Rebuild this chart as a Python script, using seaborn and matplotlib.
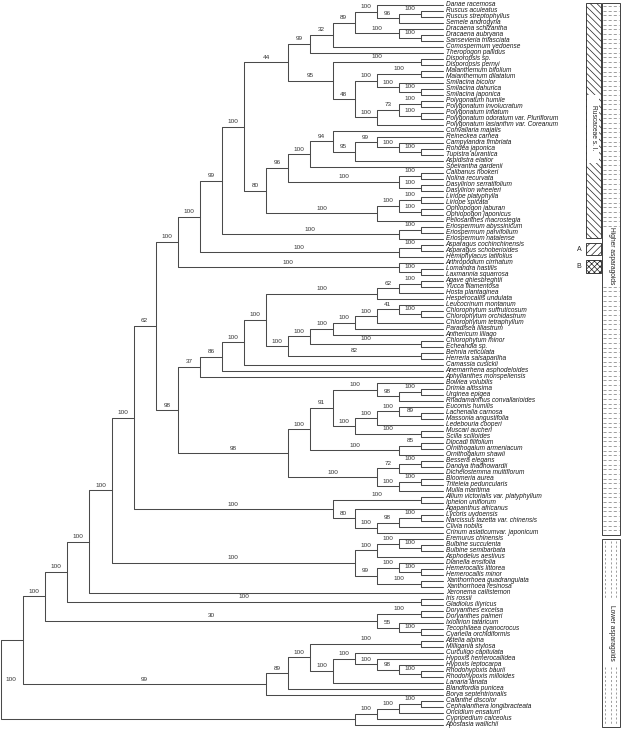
import pandas as pd
import seaborn as sns
import matplotlib.pyplot as plt
from matplotlib.patches import Rectangle

# taxa, top to bottom
taxa = [
    'Danae racemosa', 'Ruscus aculeatus', 'Ruscus streptophyllus', 'Semele androgyna',
    'Dracaena schizantha', 'Dracaena aubryana', 'Sansevieria trifasciata', 'Comospermum yedoense',
    'Theropogon pallidus', 'Disporopsis sp.', 'Disporopsis pernyi', 'Maianthemum bifolium',
    'Maianthemum dilatatum', 'Smilacina bicolor', 'Smilacina dahurica', 'Smilacina japonica',
    'Polygonatum humile', 'Polygonatum involucratum', 'Polygonatum inflatum',
    'Polygonatum odoratum var. Pluriflorum', 'Polygonatum lasianthm var. Coreanum',
    'Convallaria majalis', 'Reineckea carnea', 'Campylandra fimbriata', 'Rohdea japonica',
    'Tupistra aurantica', 'Aspidistra elatior', 'Speirantha gardenii', 'Calibanus hookeri',
    'Nolina recurvata', 'Dasylirion serratifolium', 'Dasylirion wheeleri', 'Liriope platyphylla',
    'Liriope spicata', 'Ophiopogon jaburan', 'Ophiopogon japonicus', 'Peliosanthes macrostegia',
    'Eriospermum abyssinicum', 'Eriospermum parvifolium', 'Eriospermum natalense',
    'Asparagus cochinchinensis', 'Asparagus schoberioides', 'Hemiphylacus latifolius',
    'Arthropodium cirrhatum', 'Lomandra hastilis', 'Laxmannia squarrosa', 'Agave ghiesbreghtii',
    'Yucca filamentosa', 'Hosta plantaginea', 'Hesperocallis undulata', 'Leucocrinum montanum',
    'Chlorophytum suffruticosum', 'Chlorophytum orchidastrum', 'Chlorophytum tetraphyllum',
    'Paradisea liliastrum', 'Anthericum liliago', 'Chlorophytum minor', 'Echeandia sp.',
    'Behnia reticulata', 'Herreria salsaparilha', 'Camassia cusickii', 'Anemarrhena asphodeloides',
    'Aphyllanthes monspeliensis', 'Bowiea volubilis', 'Drimia altissima', 'Urginea epigea',
    'Rhadamanthus convallarioides', 'Eucomis humilis', 'Lachenalia carnosa', 'Massonia angustifolia',
    'Ledebouria cooperi', 'Muscari aucheri', 'Scilla scilloides', 'Dipcadi filifolium',
    'Ornithogalum armeniacum', 'Ornithogalum shawii', 'Bessera elegans', 'Dandya thadhowardii',
    'Dichelostemma multiflorum', 'Bloomeria aurea', 'Triteleia peduncularis', 'Muilla maritima',
    'Allium victorialis var. platyphyllum', 'Ipheion uniflorum', 'Agapanthus africanus',
    'Lycoris uydoensis', 'Narcissus tazetta var. chinensis', 'Clivia nobilis',
    'Crinum asiaticumvar. japonicum', 'Eremurus chinensis', 'Bulbine succulenta',
    'Bulbine semibarbata', 'Asphodelus aestivus', 'Dianella ensifolia', 'Hemerocallis littorea',
    'Hemerocallis minor', 'Xanthorrhoea guadrangulata', 'Xanthorrhoea resinosa',
    'Xeronema callistemon', 'Iris rossii', 'Gladiolus illyricus', 'Doryanthes excelsa',
    'Doryanthes palmeri', 'Ixiolirion tataricum', 'Tecophilaea cyanocrocus',
    'Cyanella orchidiformis', 'Astelia alpina', 'Milligania stylosa', 'Curculigo capitulata',
    'Hypoxis hemerocallidea', 'Hypoxis leptocarpa', 'Rhodohypoxis baurii', 'Rhodohypoxis milloides',
    'Lanaria lanata', 'Blandfordia punicea', 'Borya septentrionalis', 'Calanthe discolor',
    'Cephalanthera longibracteata', 'Oncidium ensatum', 'Cypripedium calceolus', 'Apostasia wallichii',
]


def clade(*parts, support=''):
    return '(' + ','.join(str(p) for p in parts) + ')' + support


# topology with bootstrap values (leaves = index into taxa)
ruscus = clade(clade(0, clade(clade(1, 2, support='100'), 3, support='96'), support='100'),
               clade(4, clade(5, 6, support='100'), support='100'), support='89')
polygonatum = clade(clade(clade(16, 17, support='100'), clade(18, 19, support='100'), support='73'),
                    20, support='100')
maianthemum = clade(clade(11, 12, support='100'), clade(13, clade(14, 15, support='100'), support='100'),
                    support='100')
polygonateae = clade(clade(9, 10, support='100'), clade(maianthemum, polygonatum, support='48'),
                     support='95')
nolinoid = clade(clade(clade(ruscus, 7, support='32'), 8, support='99'), polygonateae, support='44')
convallaria = clade(clade(21, clade(clade(22, clade(23, clade(24, 25, support='100'), support='100'),
                                          support='99'), 26, support='95'), support='94'), 27, support='100')
nolina = clade(clade(28, 29, support='100'), clade(30, 31, support='100'), support='100')
ophiopogon = clade(clade(clade(32, 33, support='100'), clade(34, 35, support='100'), support='100'),
                   36, support='100')
convallarieae = clade(clade(convallaria, nolina, support='96'), ophiopogon, support='80')
eriospermum = clade(clade(37, 38, support='100'), 39, support='100')
asparagus = clade(clade(40, 41, support='100'), 42, support='100')
lomandra = clade(43, clade(44, 45, support='100'), support='100')
ruscaceae = clade(clade(clade(clade(nolinoid, convallarieae, support='100'), eriospermum, support='99'),
                        asparagus, support='100'), lomandra, support='100')

agave = clade(clade(clade(46, 47, support='100'), 48, support='62'), 49, support='100')
chlorophytum = clade(clade(clade(clade(clade(50, clade(51, 52, support='100'), support='41'), 53,
                                       support='100'), 54, support='100'), 55, support='100'),
                     clade(56, 57, support='100'), support='100')
anthericaceae = clade(chlorophytum, clade(58, 59, support='82'), support='100')
agavaceae = clade(clade(clade(clade(agave, anthericaceae, support='100'), 60, support='100'), 61,
                        support='86'), 62, support='37')
urginea = clade(63, clade(clade(64, 65, support='100'), 66, support='98'), support='100')
scilla = clade(clade(clade(67, clade(68, 69, support='89'), support='100'), 70, support='100'),
               clade(71, 72, support='100'), support='100')
hyacinthaceae = clade(clade(urginea, scilla, support='91'),
                      clade(clade(73, 74, support='85'), 75, support='100'), support='100')
themidaceae = clade(clade(clade(76, 77, support='100'), 78, support='72'),
                    clade(clade(79, 80, support='100'), 81, support='100'), support='100')
hyacinth_group = clade(hyacinthaceae, themidaceae, support='98')
amaryllidaceae = clade(clade(82, 83, support='100'),
                       clade(84, clade(clade(clade(85, 86, support='100'), 87, support='98'), 88,
                                       support='100'), support='80'), support='100')
asphodelaceae = clade(clade(clade(89, clade(90, 91, support='100'), support='100'), 92, support='100'),
                      clade(clade(93, clade(94, 95, support='100'), support='100'),
                            clade(96, 97, support='100'), support='99'), support='100')
higher = clade(clade(clade(clade(clade(ruscaceae, clade(agavaceae, hyacinth_group, support='98'),
                                       support='62'), amaryllidaceae, support='100'),
                             asphodelaceae, support='100'), 98, support='100'),
               clade(99, 100, support='100'), support='100')
doryanthes = clade(clade(101, 102, support='100'), clade(103, clade(104, 105, support='100'), support='55'),
                   support='30')
hypoxidaceae = clade(clade(clade(clade(106, 107, support='100'),
                                 clade(clade(108, clade(109, clade(110, clade(111, 112, support='100'),
                                                                   support='98'), support='100'),
                                             support='100'), 113, support='100'), support='100'),
                           114, support='89'), 115, support='99')
orchids = clade(clade(clade(clade(116, 117, support='100'), 118, support='100'), 119, support='100'), 120)
tree_newick = clade(clade(clade(higher, doryanthes, support='100'), hypoxidaceae), orchids)
root_support = '100'

# right-hand groups: (name, first taxon, last taxon)
bar_groups = [('Higher asparagoids', 0, 88), ('Lower asparagoids', 89, 120)]


def parse(s):
    pos = 0

    def node():
        nonlocal pos
        if s[pos] == '(':
            pos += 1
            kids = [node()]
            while s[pos] == ',':
                pos += 1
                kids.append(node())
            pos += 1
            lab = ''
            while pos < len(s) and s[pos] not in ',()':
                lab += s[pos]
                pos += 1
            return {'kids': kids, 'label': lab}
        num = ''
        while s[pos].isdigit():
            num += s[pos]
            pos += 1
        return {'leaf': int(num)}

    return node()


def height(n):
    if 'leaf' in n:
        n['h'] = 0
    else:
        n['h'] = 1 + max(height(k) for k in n['kids'])
    return n['h']


root = parse(tree_newick)
depth = height(root)


def layout(n):
    n['x'] = depth - n['h']
    if 'leaf' in n:
        n['y'] = n['leaf']
    else:
        for k in n['kids']:
            layout(k)
        n['y'] = (n['kids'][0]['y'] + n['kids'][-1]['y']) / 2


layout(root)

segs = []
supports = []


def collect(n):
    if 'leaf' in n:
        return
    for k in n['kids']:
        sid = len(segs)
        segs.append([(n['x'], n['y'], sid), (n['x'], k['y'], sid), (k['x'], k['y'], sid)])
        if 'kids' in k and k['label']:
            supports.append(((n['x'] + k['x']) / 2, k['y'], k['label']))
        collect(k)


collect(root)
df = pd.DataFrame([p for s in segs for p in s], columns=['x', 'y', 'seg'])

sns.set_style('white')
plt.rcParams['font.family'] = ['Liberation Sans', 'DejaVu Sans']
plt.rcParams['hatch.linewidth'] = 0.5
plt.rcParams['lines.scale_dashes'] = False

fig = plt.figure(figsize=(6.22, 7.30), dpi=100)
ax = fig.add_axes([0, 0, 1, 1])

sns.lineplot(data=df, x='x', y='y', units='seg', estimator=None, sort=False,
             color='#4a4a4a', linewidth=0.75, legend=False, ax=ax)

for i, name in enumerate(taxa):
    ax.text(depth + 0.12, i, name, fontsize=4.7, style='italic', va='center', ha='left', color='#1a1a1a')

for x, y, lab in supports:
    ax.text(x, y - 0.85, lab, fontsize=4.6, ha='center', va='center', color='#333')
ax.text(root['x'] + 0.45, root['y'], root_support, fontsize=4.6, ha='center', va='center', color='#333')

# right-hand bars
bx0, bx1 = 27.19, 28.03
for name, a, b in bar_groups:
    top = a - 0.33 if a == 0 else a
    bot = b + 0.33
    ax.add_patch(Rectangle((bx0, top), bx1 - bx0, bot - top, fill=False, ec='#222', lw=0.6))
    mid = (top + bot) / 2 if name.startswith('Lower') else 41.8
    half = 5.6 if name.startswith('Lower') else 4.6
    if name.startswith('Higher'):
        rows = [top + 0.5 + 0.78 * k for k in range(int((bot - top) / 0.78))]
        rows = [r for r in rows if abs(r - mid) > half and r < bot - 0.2]
        ax.hlines(rows, bx0 + 0.05, bx1 - 0.05, color='#777', lw=0.5, linestyles=(0, (2.2, 1.5)))
    else:
        for cx in [27.35, 27.6, 27.85]:
            ax.vlines(cx, top + 0.3, mid - half, color='#777', lw=0.5, linestyles=(0, (1.5, 1.5)))
            ax.vlines(cx, mid + half, bot - 0.3, color='#777', lw=0.5, linestyles=(0, (1.5, 1.5)))
    ax.text((bx0 + bx1) / 2, mid, name, rotation=270, fontsize=4.8, ha='center', va='center', color='#222')

rx0, rx1 = 26.47, 27.13
ax.add_patch(Rectangle((rx0, -0.33), rx1 - rx0, 39.16, facecolor='white', ec='#222', lw=0.6,
                       hatch='\\\\\\\\\\'))
ax.add_patch(Rectangle((rx0 + 0.05, 15.0), rx1 - rx0 - 0.1, 11.4, facecolor='white', ec='none'))
ax.text((rx0 + rx1) / 2, 20.5, 'Ruscaceae s. l.', rotation=270, fontsize=4.8, ha='center', va='center',
        color='#222')
ax.add_patch(Rectangle((rx0, 39.6), rx1 - rx0, 2.15, facecolor='white', ec='#222', lw=0.6, hatch='/////'))
ax.add_patch(Rectangle((rx0, 42.5), rx1 - rx0, 2.17, facecolor='white', ec='#222', lw=0.6, hatch='xxxxxx'))
ax.text(26.15, 40.7, 'A', fontsize=5, ha='center', va='center')
ax.text(26.15, 43.6, 'B', fontsize=5, ha='center', va='center')

ax.set_xlim(-1 / 22.1, 621 / 22.1)
ax.set_ylim(725 / 6, -5 / 6)
ax.axis('off')

fig.savefig('out.png', dpi=100)
